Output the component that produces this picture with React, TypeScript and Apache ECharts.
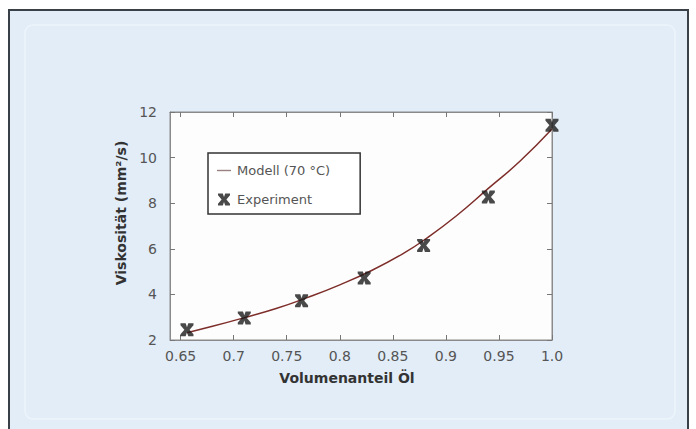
import React, { useEffect, useRef } from "react";
import * as echarts from "echarts";

const modelX = [0.656, 0.68, 0.71, 0.74, 0.77, 0.8, 0.83, 0.86, 0.88, 0.91, 0.94, 0.97, 1.0];
const modelY = [2.32, 2.6, 2.98, 3.38, 3.87, 4.42, 5.05, 5.8, 6.4, 7.45, 8.65, 9.85, 11.25];
const expX = [0.656, 0.71, 0.764, 0.823, 0.879, 0.94, 1.0];
const expY = [2.45, 2.97, 3.72, 4.72, 6.15, 8.27, 11.42];
const xTicks = [0.65, 0.7, 0.75, 0.8, 0.85, 0.9, 0.95, 1.0];

const X_PATH =
  "path://M0,0 L4,0 L5,3 L6,0 L10,0 L10,1.5 L7,5 L10,8.5 L10,10 L6,10 L5,7 L4,10 L0,10 L0,8.5 L3,5 L0,1.5 Z";
const LINE_ICON = "path://M0,0 M16,12 M1,5.3 L15,5.3 L15,6.7 L1,6.7 Z";

export default function App() {
  const ref = useRef<HTMLDivElement>(null);
  useEffect(() => {
    const chart = echarts.init(ref.current!, null, { renderer: "svg" });
    const font = "DejaVu Sans, Verdana, sans-serif";
    const fmt = (v: number) => (v === 1 ? "1.0" : String(+v.toFixed(2)));
    chart.setOption({
      animation: false,
      backgroundColor: "#ffffff",
      textStyle: { fontFamily: font },
      graphic: [
        {
          type: "rect",
          shape: { x: 9, y: 10, width: 679, height: 430 },
          style: { fill: "#e2edf8", stroke: "#3a4048", lineWidth: 2 },
          z: -10,
        },
        {
          type: "rect",
          shape: { x: 25, y: 25, width: 650, height: 394, r: 8 },
          style: { fill: "none", stroke: "rgba(255,255,255,0.4)", lineWidth: 1.5 },
          z: -9,
        },
      ],
      grid: {
        left: 170,
        right: 144,
        top: 112,
        bottom: 89,
        show: true,
        backgroundColor: "#fdfdfd",
        borderColor: "#8a8a8a",
        borderWidth: 1,
      },
      legend: {
        left: 208,
        top: 153,
        orient: "vertical",
        backgroundColor: "#ffffff",
        borderColor: "#333",
        borderWidth: 1.5,
        padding: [11, 30, 8, 8],
        itemGap: 16,
        itemWidth: 16,
        itemHeight: 12,
        textStyle: { fontSize: 13, color: "#555", fontFamily: font },
        data: [
          { name: "Modell (70 °C)", icon: LINE_ICON, itemStyle: { color: "#9a8080" } },
          { name: "Experiment", icon: X_PATH },
        ],
      },
      xAxis: [
        {
          type: "value",
          min: 0.64,
          max: 1.0,
          name: "Volumenanteil Öl",
          nameLocation: "middle",
          nameGap: 31,
          nameTextStyle: {
            fontSize: 14,
            fontWeight: "bold",
            color: "#333",
            fontFamily: font,
            padding: [0, 28, 0, 0],
          },
          axisLine: { show: true, lineStyle: { color: "#8a8a8a" } },
          axisTick: { show: true, inside: true, length: 5, customValues: xTicks, lineStyle: { color: "#777" } },
          axisLabel: { customValues: xTicks, formatter: fmt, color: "#555", fontSize: 14, margin: 9 },
          splitLine: { show: false },
        },
        {
          type: "value",
          position: "top",
          min: 0.64,
          max: 1.0,
          axisLine: { show: true, lineStyle: { color: "#8a8a8a" } },
          axisTick: { show: true, inside: true, length: 5, customValues: xTicks, lineStyle: { color: "#777" } },
          axisLabel: { show: false },
          splitLine: { show: false },
        },
      ],
      yAxis: [
        {
          type: "value",
          min: 2,
          max: 12,
          interval: 2,
          name: "Viskosität (mm²/s)",
          nameLocation: "middle",
          nameGap: 36,
          nameTextStyle: {
            fontSize: 14,
            fontWeight: "bold",
            color: "#333",
            fontFamily: font,
            padding: [0, 0, 0, 26],
          },
          axisLine: { show: true, lineStyle: { color: "#8a8a8a" } },
          axisTick: { show: true, inside: true, length: 5, lineStyle: { color: "#777" } },
          axisLabel: { color: "#555", fontSize: 14, margin: 13, padding: [0, 0, 6, 0] },
          splitLine: { show: false },
        },
        {
          type: "value",
          position: "right",
          min: 2,
          max: 12,
          interval: 2,
          axisLine: { show: true, lineStyle: { color: "#8a8a8a" } },
          axisTick: { show: true, inside: true, length: 5, lineStyle: { color: "#777" } },
          axisLabel: { show: false },
          splitLine: { show: false },
        },
      ],
      series: [
        {
          name: "Modell (70 °C)",
          type: "line",
          smooth: true,
          symbol: "none",
          data: modelX.map((x, i) => [x, modelY[i]]),
          lineStyle: { color: "#7e2e2a", width: 1.5 },
          itemStyle: { color: "#7e2e2a" },
          z: 2,
        },
        {
          name: "Experiment",
          type: "scatter",
          symbol: X_PATH,
          symbolSize: 13,
          data: expX.map((x, i) => [x, expY[i]]),
          itemStyle: { color: "#1c1c1c" },
          z: 3,
        },
      ],
    });
    return () => chart.dispose();
  }, []);
  return (
    <div
      ref={ref}
      style={{ position: "fixed", left: 0, top: 0, width: 696, height: 429 }}
    />
  );
}
